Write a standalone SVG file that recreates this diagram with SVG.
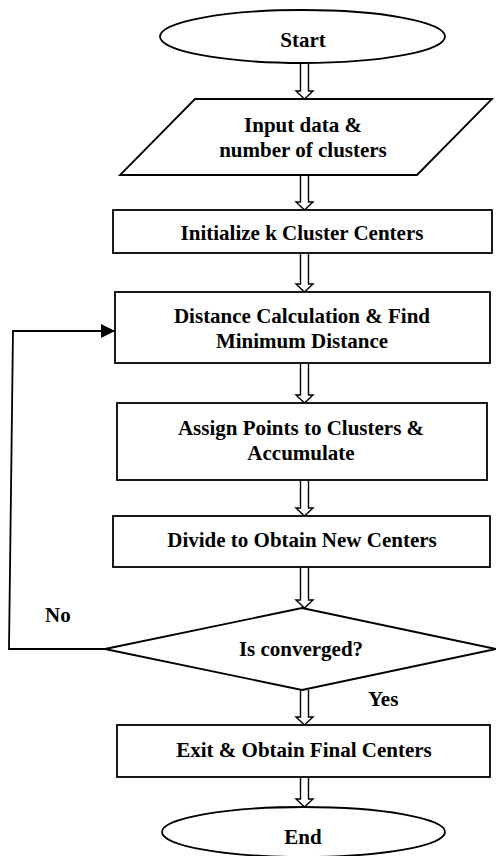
<svg xmlns="http://www.w3.org/2000/svg" width="496" height="856" viewBox="0 0 496 856">
<style>
.shape{fill:#fff;stroke:#000;stroke-width:1.8}
.harrow{fill:#fff;stroke:#000;stroke-width:1.4;stroke-linejoin:miter}
.line{fill:none;stroke:#000;stroke-width:1.8}
text{font-family:"Liberation Serif","Times New Roman",serif;font-weight:bold;font-size:21px;fill:#000}
.c{text-anchor:middle}
</style>
<defs>
<marker id="tri" viewBox="0 0 14 14" refX="14" refY="7" markerWidth="14" markerHeight="14" markerUnits="userSpaceOnUse" orient="auto">
<path d="M0,0 L14,7 L0,14 Z" fill="#000"/>
</marker>
</defs>
<g id="connectors">
<path class="harrow" d="M300.5,63 V91 H296 L304.5,99 L313,91 H308.5 V63"/>
<path class="harrow" d="M300.5,175 V202 H296 L304.5,210 L313,202 H308.5 V175"/>
<path class="harrow" d="M300.5,253 V284 H296 L304.5,292 L313,284 H308.5 V253"/>
<path class="harrow" d="M300.5,363 V395 H296 L304.5,403 L313,395 H308.5 V363"/>
<path class="harrow" d="M300.5,480 V508 H296 L304.5,516 L313,508 H308.5 V480"/>
<path class="harrow" d="M300.5,567 V600 H296 L304.5,608 L313,600 H308.5 V567"/>
<path class="harrow" d="M300.5,690 V717 H296 L304.5,725 L313,717 H308.5 V690"/>
<path class="harrow" d="M300.5,777 V799 H296 L304.5,807 L313,799 H308.5 V777"/>
<polyline class="line" points="105,649 9,649 13,331 115,331" marker-end="url(#tri)"/>
<text x="45" y="622">No</text>
<text x="368" y="706">Yes</text>
</g>
<g id="start">
<ellipse class="shape" cx="302.5" cy="36.5" rx="142.5" ry="26.5"/>
<text class="c" x="303" y="47">Start</text>
</g>
<g id="input">
<polygon class="shape" points="195,99 492,99 417,175 120,175"/>
<text class="c" x="303" y="132">Input data &amp;</text>
<text class="c" x="303" y="157">number of clusters</text>
</g>
<g id="init">
<rect class="shape" x="113" y="210" width="379" height="43"/>
<text class="c" x="302" y="240">Initialize k Cluster  Centers</text>
</g>
<g id="distance">
<rect class="shape" x="115" y="292" width="375" height="71"/>
<text class="c" x="302" y="323">Distance Calculation &amp; Find</text>
<text class="c" x="302" y="348">Minimum Distance</text>
</g>
<g id="assign">
<rect class="shape" x="117" y="403" width="370" height="77"/>
<text class="c" x="301" y="435">Assign Points to Clusters &amp;</text>
<text class="c" x="301" y="460">Accumulate</text>
</g>
<g id="divide">
<rect class="shape" x="113" y="516" width="377" height="51"/>
<text class="c" x="302" y="547">Divide to Obtain New Centers</text>
</g>
<g id="decision">
<polygon class="shape" points="302,608 496,649 302,690 105,649"/>
<text class="c" x="301" y="656">Is converged?</text>
</g>
<g id="exit">
<rect class="shape" x="117" y="725" width="373" height="52"/>
<text class="c" x="304" y="757">Exit &amp; Obtain Final Centers</text>
</g>
<g id="end">
<ellipse class="shape" cx="303.5" cy="832" rx="141.5" ry="25"/>
<text class="c" x="303" y="844">End</text>
</g>
</svg>
